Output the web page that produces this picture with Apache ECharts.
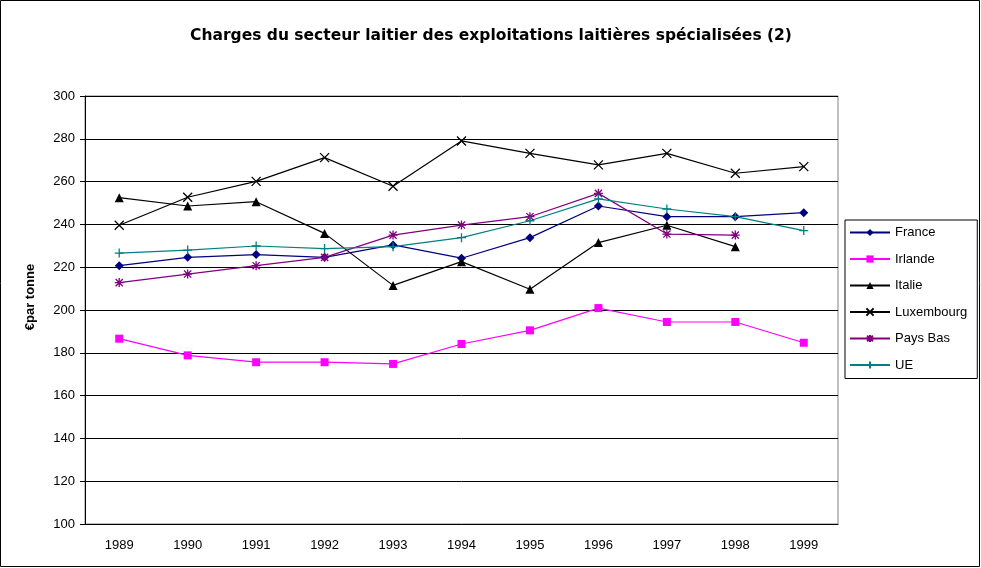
<!DOCTYPE html>
<html>
<head>
<meta charset="utf-8">
<script src="https://cdn.jsdelivr.net/npm/echarts@6/dist/echarts.min.js"></script>
<style>
  html, body { margin: 0; padding: 0; background: #fff; }
  #chart { width: 981px; height: 568px; }
</style>
</head>
<body>
<div id="chart"></div>
<script>
const years = ["1989", "1990", "1991", "1992", "1993", "1994", "1995", "1996", "1997", "1998", "1999"];

const france = [220.7, 224.6, 225.9, 224.6, 230.4, 224.2, 233.8, 248.6, 243.6, 243.6, 245.5];
const irlande = [186.6, 178.8, 175.6, 175.6, 174.8, 184.1, 190.5, 200.9, 194.4, 194.4, 184.7];
const italie = [252.5, 248.6, 250.6, 235.8, 211.5, 222.6, 209.7, 231.5, 239.6, 229.6, null];
const luxembourg = [239.6, 252.7, 260.1, 271.2, 257.8, 279.0, 273.2, 267.8, 273.2, 263.9, 267.0];
const paysBas = [212.8, 216.8, 220.7, 224.6, 235.0, 239.7, 243.6, 254.5, 235.5, 235.0, null];
const ue = [226.6, 228.0, 229.9, 228.7, 229.6, 233.8, 241.7, 251.9, 247.2, 243.6, 237.1];

const font = "Liberation Sans, Arial, sans-serif";

// stroke-only marker shapes
const crossX = "path://M0,0L10,10M10,0L0,10";
const star = "path://M5,0L5,10M0,5L10,5M1,1L9,9M9,1L1,9";
const plus = "path://M5,0L5,10M0,5L10,5";

function filled(name, data, color, symbol, size) {
  return {
    name: name,
    type: "line",
    data: data,
    symbol: symbol,
    symbolSize: size,
    showAllSymbol: true,
    connectNulls: false,
    lineStyle: { color: color, width: 1.2 },
    itemStyle: { color: color, borderWidth: 0 },
    emphasis: { disabled: true },
    z: 3,
  };
}

function stroked(name, data, color, symbol, size) {
  return {
    name: name,
    type: "line",
    data: data,
    symbol: symbol,
    symbolSize: size,
    showAllSymbol: true,
    lineStyle: { color: color, width: 1.2 },
    itemStyle: { color: "none", borderColor: color, borderWidth: 1.3 },
    emphasis: { disabled: true },
    z: 3,
  };
}

const chart = echarts.init(document.getElementById("chart"), null, { renderer: "canvas" });
chart.setOption({
  animation: false,
  backgroundColor: "#fff",
  title: {
    text: "Charges du secteur laitier des exploitations laitières spécialisées (2)",
    left: 486,
    top: 23,
    textAlign: "center",
    textStyle: { fontFamily: "DejaVu Sans, sans-serif", fontSize: 15.5, fontWeight: "bold", color: "#000" },
  },
  grid: {
    left: 85,
    top: 96,
    width: 753,
    height: 428,
    show: true,
    borderColor: "#808080",
    borderWidth: 1,
    containLabel: false,
  },
  legend: {
    orient: "vertical",
    left: 845,
    top: 220,
    itemWidth: 40,
    itemHeight: 9,
    itemGap: 13.5,
    padding: [6, 10, 7, 4],
    borderColor: "#000",
    borderWidth: 1,
    textStyle: { fontFamily: font, fontSize: 13, color: "#000" },
    data: ["France", "Irlande", "Italie", "Luxembourg", "Pays Bas", "UE"],
  },
  xAxis: {
    type: "category",
    data: years,
    boundaryGap: true,
    axisLine: { lineStyle: { color: "#000" } },
    axisTick: { alignWithLabel: false, length: 5, lineStyle: { color: "#000" } },
    axisLabel: { fontFamily: font, fontSize: 13, color: "#000", margin: 15 },
  },
  yAxis: {
    type: "value",
    min: 100,
    max: 300,
    interval: 20,
    axisLine: { show: true, lineStyle: { color: "#000" } },
    axisTick: { show: true, length: 5, lineStyle: { color: "#000" } },
    axisLabel: { fontFamily: font, fontSize: 13, color: "#000", margin: 10 },
    splitLine: { lineStyle: { color: "#000", width: 1 } },
  },
  graphic: [
    {
      type: "rect",
      shape: { x: 0.5, y: 0.5, width: 979, height: 566 },
      style: { fill: "none", stroke: "#000", lineWidth: 1 },
      silent: true,
    },
    {
      type: "text",
      x: 30,
      y: 297,
      rotation: Math.PI / 2,
      style: {
        text: "€par tonne",
        fontFamily: font,
        fontSize: 13,
        fontWeight: "bold",
        fill: "#000",
        align: "center",
        verticalAlign: "middle",
      },
      silent: true,
    },
  ],
  series: [
    filled("France", france, "#000080", "diamond", 9),
    filled("Irlande", irlande, "#ff00ff", "rect", 8),
    filled("Italie", italie, "#000000", "triangle", 9),
    stroked("Luxembourg", luxembourg, "#000000", crossX, 9),
    stroked("Pays Bas", paysBas, "#800080", star, 9),
    stroked("UE", ue, "#008080", plus, 9),
  ],
});
</script>
</body>
</html>
